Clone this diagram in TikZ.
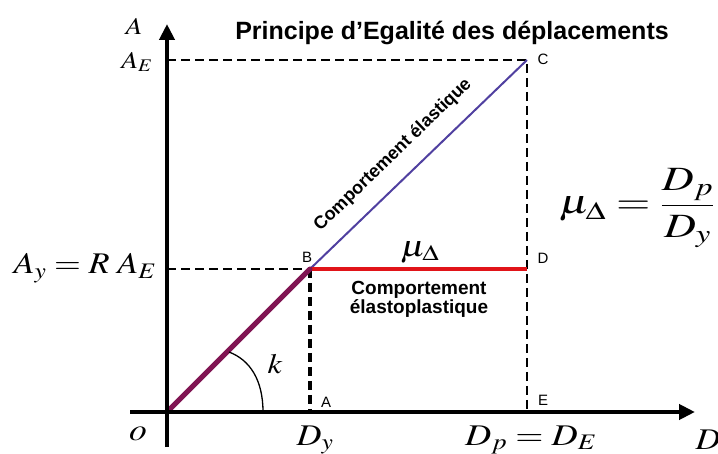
\documentclass[tikz,border=0pt]{standalone}
\usepackage{mathptmx}
\usepackage[no-math]{fontspec}
\setsansfont{Liberation Sans}
\usetikzlibrary{arrows.meta}
\definecolor{elasline}{RGB}{80,64,160}
\definecolor{plasline}{RGB}{225,20,25}
\definecolor{initline}{RGB}{128,20,82}
\tikzset{
  axis/.style={line width=4.5pt,-{Triangle[length=16pt,width=15pt]}},
  guide/.style={line width=2.5pt,dash pattern=on 9pt off 5pt},
  guidethick/.style={line width=4pt,dash pattern=on 9pt off 5pt},
  ptlabel/.style={font=\sffamily\fontsize{15}{17}\selectfont,inner sep=0pt},
  behav/.style={font=\sffamily\bfseries\fontsize{18}{20}\selectfont,inner sep=0pt,align=center},
  mathlbl/.style={font=\fontsize{28}{30}\selectfont,inner sep=0pt,xscale=1.15},
}
\begin{document}
\begin{tikzpicture}[x=1pt,y=-1pt]
\useasboundingbox (0,0) rectangle (718,454);
% key points
\coordinate (O) at (167,412);
\coordinate (B) at (310,269);
\coordinate (C) at (527,60);
\coordinate (D) at (527,269);
\coordinate (E) at (527,412);
\coordinate (A) at (310,412);
\coordinate (AE) at (167,60);
\coordinate (Ay) at (167,269);
\coordinate (xstart) at (130,412);
\coordinate (xend) at (695,412);
\coordinate (ystart) at (167,447);
\coordinate (yend) at (167,24);
% dashed guides
\draw[guide] (AE) -- (C) -- (E);
\draw[guide] (Ay) -- (B);
\draw[guidethick] (B) -- (A);
% curves
\draw[elasline,line width=2pt] (B) -- (C);
\draw[plasline,line width=3.5pt] (B) -- (D);
\draw[initline,line width=5pt,line cap=round] (O) -- (B);
% angle arc
\coordinate (k1) at (263,412);
\coordinate (k2) at (229,352);
\draw[line width=1.3pt] (k1) .. controls (263,380) and (250,360) .. (k2);
% axes
\draw[axis] (xstart) -- (xend);
\draw[axis] (ystart) -- (yend);
% title
\node[font=\sffamily\bfseries\fontsize{25}{28}\selectfont,inner sep=0pt] (title) at (452,33) {Principe d'Egalité des déplacements};
% point labels
\node[ptlabel] (lB) at (307,257) {B};
\node[ptlabel] (lC) at (543,59) {C};
\node[ptlabel] (lD) at (543,258) {D};
\node[ptlabel] (lE) at (543,400) {E};
\node[ptlabel] (lA) at (326,402) {A};
% behaviour labels
\node[behav,rotate=44] (elas) at (393,155) {Comportement élastique};
\node[behav,font=\sffamily\bfseries\fontsize{19}{17}\selectfont] (plas) at (419,299) {Comportement\\élastoplastique};
% math labels
\node[mathlbl,font=\fontsize{24}{26}\selectfont] (lAaxis) at (134,26) {$A$};
\node[mathlbl,font=\fontsize{24}{26}\selectfont] (lAE) at (137,62) {$A_E$};
\node[mathlbl,font=\fontsize{30}{32}\selectfont] (lAy) at (85,268) {$A_y = R\;A_E$};
\node[mathlbl,font=\fontsize{31}{32}\selectfont] (lo) at (138,434) {$o$};
\node[mathlbl,font=\fontsize{30}{32}\selectfont] (lDy) at (315,440) {$D_y$};
\node[mathlbl,font=\fontsize{30}{32}\selectfont,xscale=1.05] (lDp) at (531,440) {$D_p = D_E$};
\node[mathlbl,font=\fontsize{30}{32}\selectfont] (lD) at (708,440) {$D$};
\node[mathlbl] (lk) at (275,364) {$k$};
\node[mathlbl,font=\fontsize{30}{32}\selectfont,xscale=1.05] (lmu) at (420,252) {$\mu_\Delta$};
\node[mathlbl,font=\fontsize{34}{38}\selectfont,xscale=1.13] (duct) at (637,208) {$\displaystyle\mu_\Delta = \frac{D_p}{D_y}$};
\end{tikzpicture}
\end{document}
